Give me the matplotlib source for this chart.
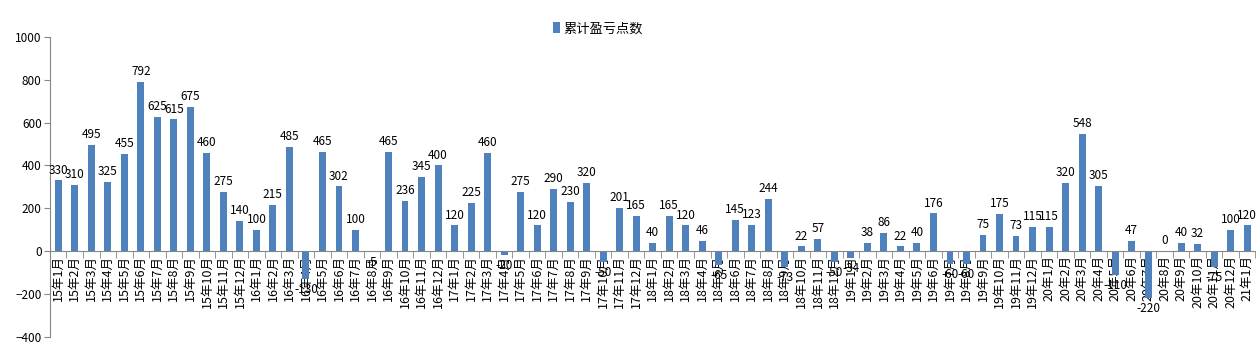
import matplotlib
matplotlib.use('Agg')
import matplotlib.pyplot as plt
import numpy as np
from matplotlib.ticker import FixedLocator

plt.rcParams['font.family'] = ['Noto Sans CJK SC', 'DejaVu Sans']

years = ['15', '16', '17', '18', '19', '20']
months = [y + '年' + str(m) + '月' for y in years for m in range(1, 13)] + ['21年1月']

values = [330, 310, 495, 325, 455, 792, 625, 615, 675, 460, 275, 140,
          100, 215, 485, -130, 465, 302, 100, -5, 465, 236, 345, 400,
          120, 225, 460, -20, 275, 120, 290, 230, 320, -50, 201, 165,
          40, 165, 120, 46, -65, 145, 123, 244, -73, 22, 57, -50,
          -34, 38, 86, 22, 40, 176, -60, -60, 75, 175, 73, 115,
          115, 320, 548, 305, -110, 47, -220, 0, 40, 32, -75, 100,
          120]

bar_color = '#4F81BD'
axis_color = '#868686'

fig = plt.figure(figsize=(12.59, 3.52), dpi=100)
ax = fig.add_axes([0.0397, 0.043, 0.9575, 0.852])

x = np.arange(len(values))
bars = ax.bar(x, values, width=0.42, color=bar_color, label='累计盈亏点数', zorder=2)

# data labels
for xi, v in zip(x, values):
    if v >= 0:
        ax.text(xi, v + 18, str(v), ha='center', va='bottom', fontsize=8.5, color='black', zorder=3)
    else:
        ax.text(xi, v - 18, str(v), ha='center', va='top', fontsize=8.5, color='black', zorder=3)

ax.set_xlim(-0.5, len(values) - 0.5)
ax.set_ylim(-400, 1000)
ax.set_yticks(range(-400, 1001, 200))
ax.tick_params(axis='y', labelsize=8.5, length=4, color=axis_color, pad=2)

for s in ['top', 'right']:
    ax.spines[s].set_visible(False)
ax.spines['left'].set_color(axis_color)
ax.spines['bottom'].set_color(axis_color)
ax.spines['bottom'].set_position(('data', 0))

ax.set_xticks(x)
ax.set_xticklabels(months, rotation=90, fontsize=9, va='top', ha='center')
ax.tick_params(axis='x', which='major', length=0, pad=3)
ax.xaxis.set_minor_locator(FixedLocator(np.arange(-0.5, len(values), 1.0)))
ax.tick_params(axis='x', which='minor', length=5, color=axis_color, direction='out')

leg = fig.legend(handles=[bars], labels=['累计盈亏点数'], loc='upper center',
                 bbox_to_anchor=(0.475, 0.97), frameon=False, fontsize=9.5,
                 handlelength=0.5, handleheight=0.9, handletextpad=0.3)

fig.savefig('out.png', dpi=100)
